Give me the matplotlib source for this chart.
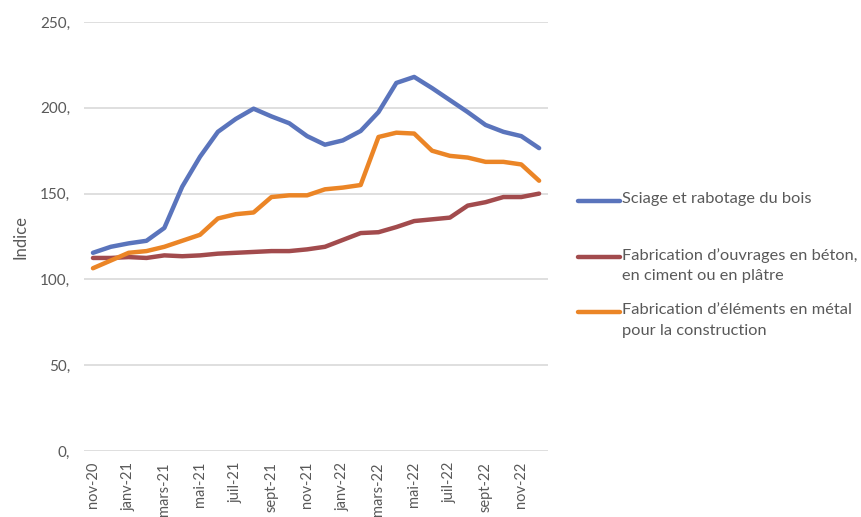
import matplotlib
matplotlib.use("Agg")
from matplotlib import pyplot as plt
from matplotlib.lines import Line2D

# monthly points, nov-20 .. dec-22
months = ["nov-20", "déc-20", "janv-21", "févr-21", "mars-21", "avr-21", "mai-21", "juin-21",
          "juil-21", "août-21", "sept-21", "oct-21", "nov-21", "déc-21", "janv-22", "févr-22",
          "mars-22", "avr-22", "mai-22", "juin-22", "juil-22", "août-22", "sept-22", "oct-22",
          "nov-22", "déc-22"]
tick_labels = ["nov-20", "janv-21", "mars-21", "mai-21", "juil-21", "sept-21", "nov-21",
               "janv-22", "mars-22", "mai-22", "juil-22", "sept-22", "nov-22"]

sciage = [115.5, 119, 121, 122.5, 130, 154, 171.5, 186, 193.5, 199.5, 195, 191, 183.5,
          178.5, 181, 186.5, 197.5, 214.5, 218, 211.5, 204.5, 197.5, 190, 186, 183.5, 176.5]
beton = [112.5, 112.5, 113, 112.5, 114, 113.5, 114, 115, 115.5, 116, 116.5, 116.5, 117.5,
         119, 123, 127, 127.5, 130.5, 134, 135, 136, 143, 145, 148, 148, 150]
metal = [106.5, 111, 115.5, 116.5, 119, 122.5, 126, 135.5, 138, 139, 148, 149, 149,
         152.5, 153.5, 155, 183, 185.5, 185, 175, 172, 171, 168.5, 168.5, 167, 157.5]

series = [
    ("Sciage et rabotage du bois", sciage, "#5A74BC"),
    ("Fabrication d\u2019ouvrages en béton,\nen ciment ou en plâtre", beton, "#A24B4D"),
    ("Fabrication d\u2019éléments en métal\npour la construction", metal, "#EB8526"),
]

plt.rcParams["font.family"] = ["Lato", "DejaVu Sans"]
txt_color = "#595959"

fig = plt.figure(figsize=(8.61, 5.17), dpi=100)
ax = fig.add_axes([0.0976, 0.1277, 0.5389, 0.8297])

x = list(range(len(months)))
for name, vals, col in series:
    ax.plot(x, vals, color=col, lw=3.2, solid_capstyle="round", solid_joinstyle="round", zorder=3)

ax.set_xlim(-0.5, len(months) - 0.5)
ax.set_ylim(0, 250)
ax.set_yticks(range(0, 251, 50))
ax.set_yticklabels(["%d," % v for v in range(0, 251, 50)], color=txt_color, fontsize=11)
ax.set_xticks(range(0, len(months), 2))
ax.set_xticklabels(tick_labels, rotation=90, color=txt_color, fontsize=10.5)
ax.tick_params(length=0, pad=8)
ax.tick_params(axis="y", pad=10)
ax.grid(axis="y", color="#D9D9D9", lw=1.2, zorder=0)
for s in ax.spines.values():
    s.set_visible(False)
ax.set_ylabel("Indice", color=txt_color, fontsize=12, labelpad=8)

# legend on the right, drawn by hand like the Excel layout
W, H = 861, 517
leg = [(201, 0), (257, 1), (312, 2)]
for (ypx, i) in leg:
    name, _, col = series[i]
    fig.add_artist(Line2D([578 / W, 620 / W], [1 - ypx / H, 1 - ypx / H], color=col, lw=3.2,
                          solid_capstyle="round", transform=fig.transFigure))
    fig.text(622 / W, 1 - (ypx - 9) / H, name, color=txt_color, fontsize=11.8,
             va="top", ha="left", linespacing=1.6)

plt.savefig("out.png", dpi=100)
plt.close(fig)
